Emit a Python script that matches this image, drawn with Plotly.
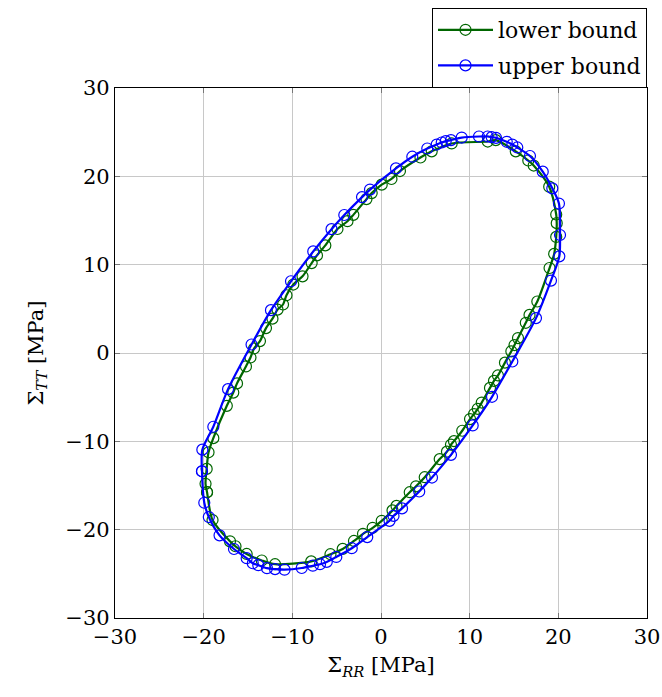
import plotly.graph_objects as go

# upper bound (blue) points, data units [MPa]
upper_rr = [-20.19, -20.15, -18.91, -17.25, -14.60, -12.41, -10.15, -7.64, -5.58, -4.14,
            -2.14, -1.24, 1.69, 3.53, 5.22, 6.28, 6.85, 7.30, 7.89, 9.10,
            11.05, 12.03, 12.48, 12.97, 14.18, 14.81, 15.37, 16.80, 18.24, 19.32,
            20.07, 20.19, 20.11, 19.17, 17.48, 14.81, 12.52, 10.34, 7.89, 5.75,
            4.31, 2.37, 1.41, 0.96, -1.55, -3.30, -5.04, -6.12, -6.88, -7.69,
            -8.94, -10.88, -11.95, -12.86, -13.84, -14.46, -15.15, -16.58, -18.21, -19.42,
            -19.93]
upper_tt = [-13.39, -10.94, -8.35, -4.09, 0.96, 4.85, 8.12, 11.50, 14.02, 15.62,
            17.65, 18.50, 20.90, 22.22, 23.15, 23.60, 23.83, 23.99, 24.10, 24.39,
            24.51, 24.51, 24.44, 24.36, 23.91, 23.60, 23.27, 22.30, 20.53, 18.64,
            16.92, 13.36, 10.94, 8.20, 3.95, -0.96, -4.96, -8.20, -11.53, -14.10,
            -15.68, -17.59, -18.44, -19.00, -20.84, -22.10, -23.09, -23.65, -23.91, -24.08,
            -24.34, -24.53, -24.47, -24.36, -24.02, -23.80, -23.23, -22.19, -20.64, -18.57,
            -16.95]

# lower bound (green) points
lower_rr = [-19.62, -19.79, -19.66, -19.45, -18.91, -17.39, -16.66, -16.24, -15.23, -14.72,
            -14.32, -13.65, -12.97, -12.24, -11.67, -11.05, -10.66, -9.89, -8.85, -7.82,
            -7.22, -6.28, -4.91, -3.78, -3.12, -1.64, -1.05, 0.08, 1.18, 2.14,
            4.45, 5.72, 7.97, 12.04, 12.95, 15.20, 16.61, 17.22, 18.97, 19.76,
            19.82, 19.76, 19.53, 19.01, 17.63, 16.75, 16.33, 15.45, 15.06, 14.70,
            13.98, 13.19, 12.74, 12.29, 11.36, 10.91, 10.49, 10.04, 9.16, 8.23,
            7.89, 7.44, 6.62, 4.93, 3.95, 3.24, 1.75, 1.30, 0.08, -0.94,
            -2.03, -3.05, -4.32, -5.70, -7.87, -11.95, -13.45, -15.15, -16.41, -17.03,
            -19.00]
lower_tt = [-15.76, -14.81, -13.12, -11.24, -9.64, -5.98, -4.48, -3.44, -1.52, -0.51,
            0.51, 1.35, 2.82, 3.89, 4.91, 5.49, 6.54, 7.75, 8.68, 10.18,
            11.05, 12.18, 14.04, 14.92, 15.64, 17.42, 18.10, 19.06, 19.70, 20.60,
            22.13, 22.83, 23.72, 23.94, 24.10, 22.83, 21.79, 21.22, 18.83, 15.68,
            14.70, 13.14, 11.22, 9.62, 5.83, 4.31, 3.42, 1.69, 0.90, 0.19,
            -1.09, -2.54, -3.16, -3.95, -5.61, -6.32, -6.91, -7.48, -8.80, -9.98,
            -10.38, -11.17, -12.01, -14.06, -15.09, -15.76, -17.31, -17.82, -19.00, -19.79,
            -20.47, -21.28, -22.18, -22.78, -23.59, -23.91, -23.49, -22.75, -21.88, -21.32,
            -18.91]

tick_vals = [-30, -20, -10, 0, 10, 20, 30]
tick_text = ["\u221230", "\u221220", "\u221210", "0", "10", "20", "30"]

GREEN = "#006600"
BLUE = "#0000ff"
FONT = "DejaVu Serif"
FS = 21

fig = go.Figure()
fig.add_trace(go.Scatter(
    x=lower_rr + lower_rr[:1], y=lower_tt + lower_tt[:1],
    mode="lines+markers", name="lower bound", legendgroup="lo",
    line=dict(color=GREEN, width=2.2, shape="spline", smoothing=0.8),
    marker=dict(symbol="circle-open", size=11, color=GREEN, line=dict(width=1.2, color=GREEN)),
))
fig.add_trace(go.Scatter(
    x=upper_rr + upper_rr[:1], y=upper_tt + upper_tt[:1],
    mode="lines+markers", name="upper bound", legendgroup="up",
    line=dict(color=BLUE, width=2.2, shape="spline", smoothing=0.8),
    marker=dict(symbol="circle-open", size=11, color=BLUE, line=dict(width=1.2, color=BLUE)),
))

axis_common = dict(
    range=[-30, 30], tickmode="array", tickvals=tick_vals, ticktext=tick_text,
    showgrid=True, gridcolor="#c8c8c8", gridwidth=1,
    zeroline=False, showline=True, linecolor="black", linewidth=1.2, mirror="ticks",
    ticks="inside", ticklen=5, tickcolor="#777777", tickwidth=1,
    tickfont=dict(family=FONT, size=FS, color="black"),
    automargin=False,
)

fig.update_layout(
    width=662, height=697,
    margin=dict(l=115, r=15, t=2, b=79),
    paper_bgcolor="white", plot_bgcolor="white",
    font=dict(family=FONT, size=FS, color="black"),
    xaxis=dict(axis_common, title=dict(text="\u03a3<sub><i>RR</i></sub> [MPa]",
                                       font=dict(family=FONT, size=FS), standoff=9)),
    yaxis=dict(axis_common, title=dict(text="\u03a3<sub><i>TT</i></sub> [MPa]",
                                       font=dict(family=FONT, size=FS), standoff=16)),
    showlegend=True,
    legend=dict(xref="paper", yref="container",
                x=1.0, xanchor="right", y=1 - 8 / 697, yanchor="top",
                bordercolor="black", borderwidth=1, bgcolor="white",
                font=dict(family=FONT, size=22), itemwidth=55, tracegroupgap=4),
    annotations=[dict(text="(a)", x=0.5, y=1.17, xref="paper", yref="paper",
                      xanchor="center", yanchor="bottom", showarrow=False,
                      font=dict(family=FONT, size=FS))],
)

fig.write_html("out.html")
